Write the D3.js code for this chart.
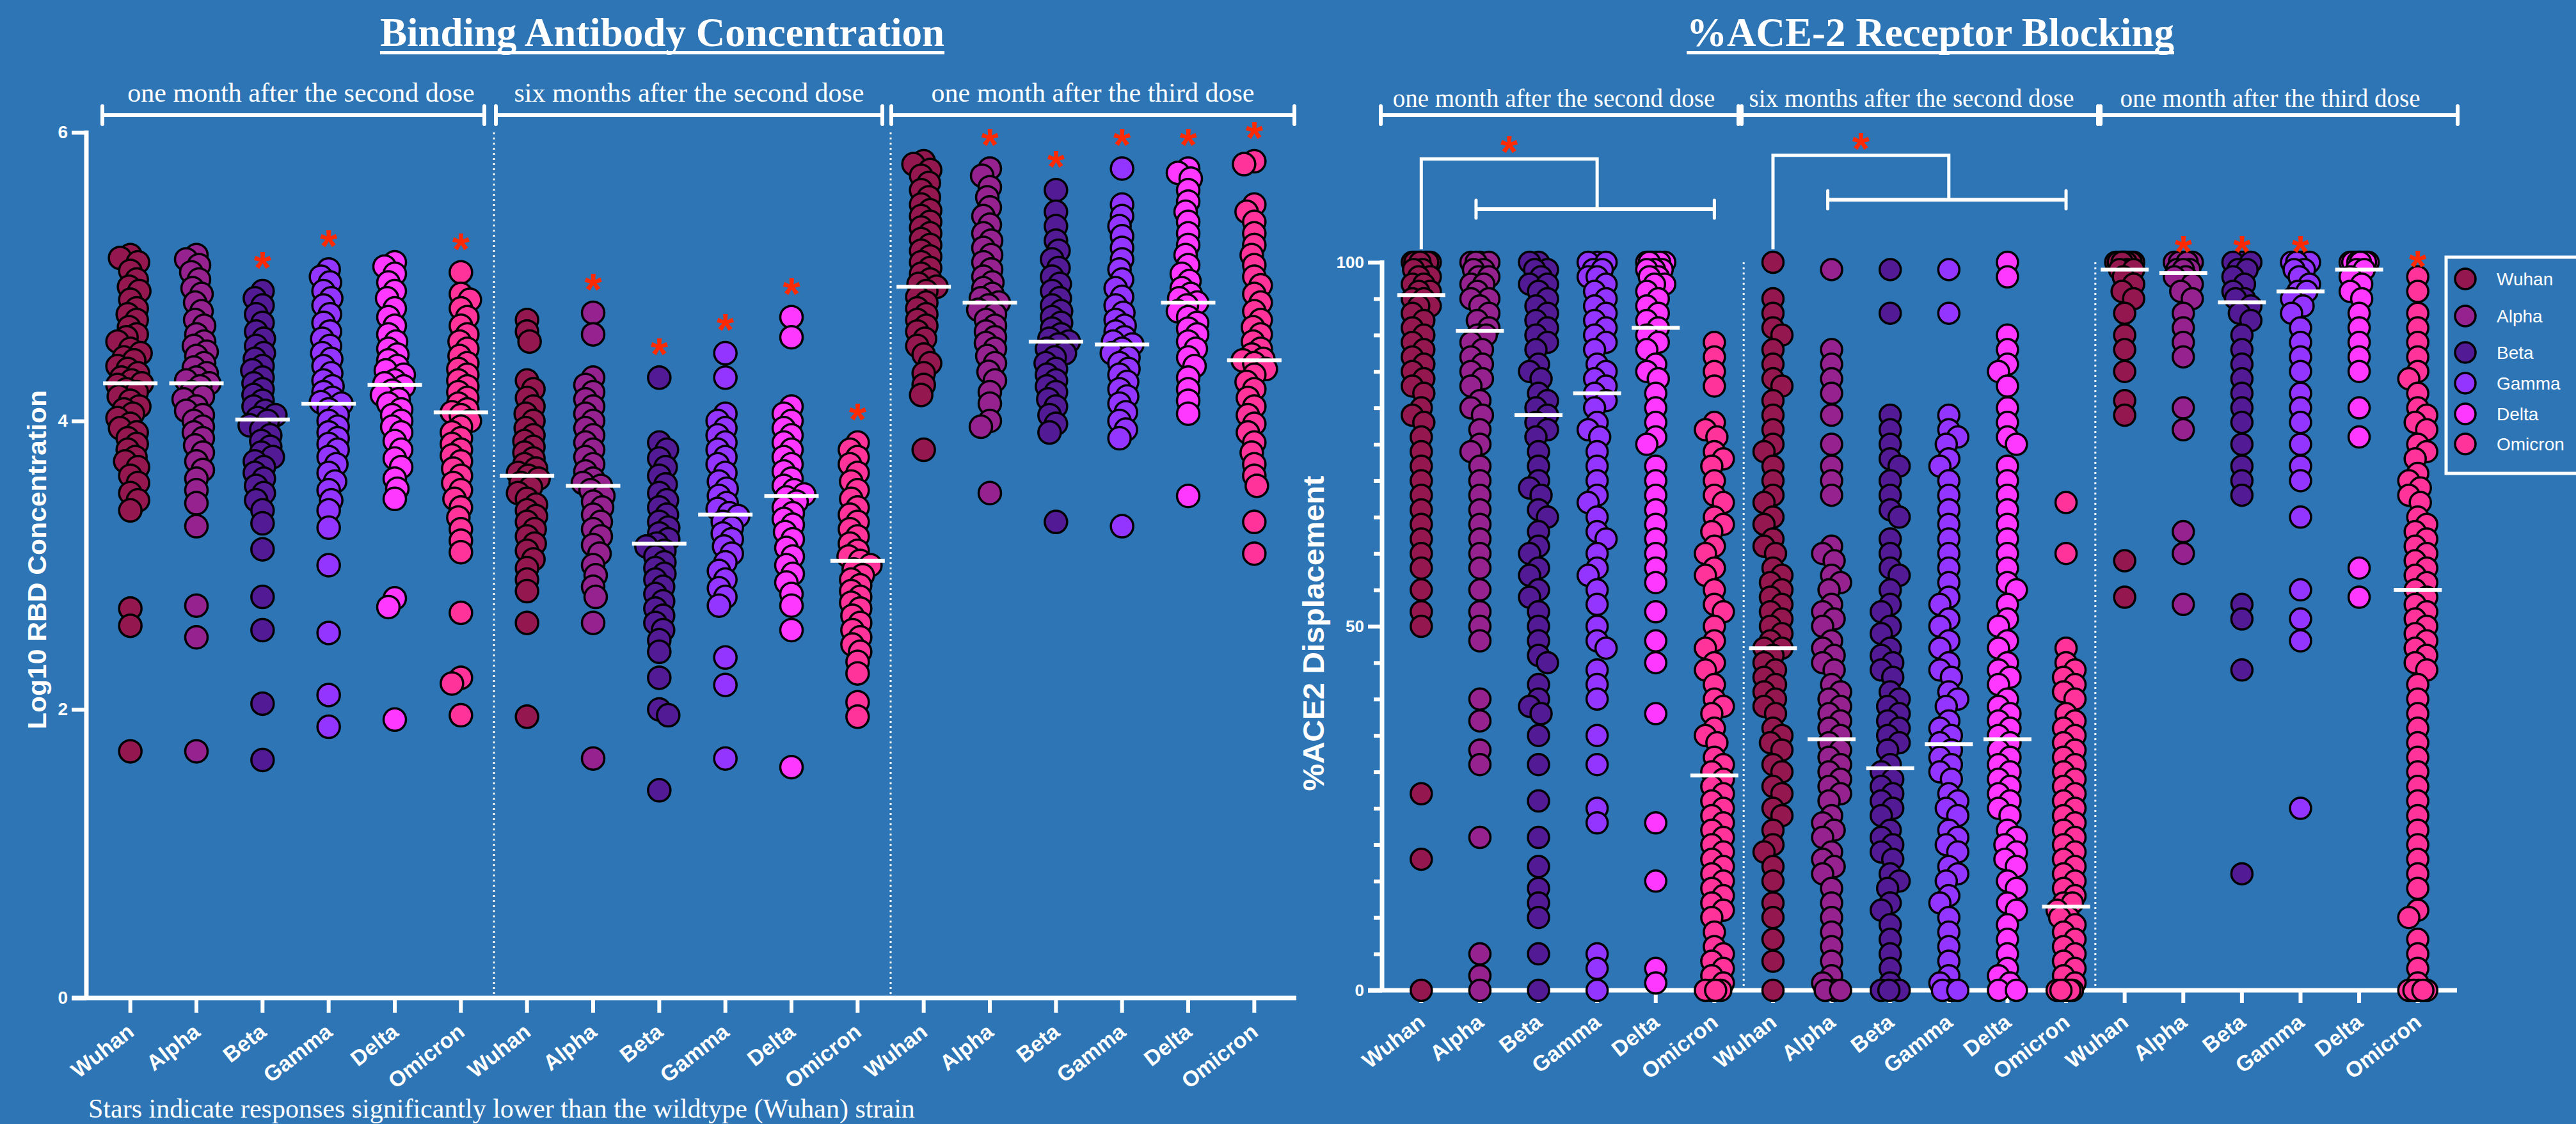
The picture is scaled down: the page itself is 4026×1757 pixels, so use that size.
<!DOCTYPE html>
<html>
<head>
<meta charset="utf-8">
<script src="https://cdn.jsdelivr.net/npm/d3@7"></script>
<style>
  html, body { margin: 0; padding: 0; background: #2E75B6; }
  svg { display: block; }
</style>
</head>
<body>
<svg id="chart" width="4026" height="1757"></svg>
<script>
// ---- categories and labels ----
const variants = ["Wuhan", "Alpha", "Beta", "Gamma", "Delta", "Omicron"];
const variantColors = ["#95174F", "#95228F", "#521A94", "#9434FF", "#FF38FF", "#FF3399"];
const periods = ["one month after the second dose", "six months after the second dose", "one month after the third dose"];
const rbdTicks = [0, 2, 4, 6];
const aceTicks = d3.range(0, 101, 5);
const aceTickLabels = [0, 50, 100];

// ---- Log10 RBD concentration, one array per variant ----
const rbdDose2Month1 = [
  [5.15,5.13,5.1,5.04,4.98,4.93,4.9,4.84,4.78,4.74,4.7,4.65,4.6,4.58,4.55,4.5,4.47,4.44,4.42,4.38,4.36,4.33,4.3,4.28,4.26,4.25,4.22,4.2,4.17,4.14,4.1,4.08,4.05,4.02,3.98,3.95,3.92,3.88,3.84,3.8,3.75,3.72,3.68,3.62,3.57,3.5,3.45,3.38,2.7,2.58,1.71],
  [5.15,5.12,5.08,5.03,4.98,4.92,4.88,4.82,4.76,4.7,4.66,4.6,4.55,4.52,4.48,4.45,4.4,4.37,4.33,4.3,4.28,4.26,4.24,4.2,4.17,4.15,4.1,4.07,4.04,4.0,3.96,3.92,3.88,3.83,3.78,3.72,3.66,3.6,3.52,3.43,3.27,2.72,2.5,1.71],
  [4.9,4.85,4.8,4.74,4.68,4.62,4.57,4.52,4.47,4.43,4.38,4.35,4.3,4.26,4.22,4.18,4.14,4.1,4.07,4.04,4.02,4.0,3.97,3.94,3.9,3.86,3.82,3.78,3.75,3.72,3.68,3.64,3.6,3.55,3.5,3.45,3.38,3.29,3.11,2.78,2.55,2.04,1.65],
  [5.05,5.0,4.96,4.9,4.85,4.8,4.74,4.68,4.62,4.57,4.52,4.47,4.43,4.38,4.33,4.28,4.24,4.2,4.16,4.13,4.12,4.08,4.04,4.0,3.96,3.92,3.88,3.84,3.8,3.75,3.7,3.64,3.58,3.52,3.45,3.38,3.26,3.0,2.53,2.1,1.88],
  [5.1,5.07,5.02,4.96,4.9,4.85,4.78,4.72,4.66,4.6,4.55,4.5,4.46,4.42,4.38,4.35,4.32,4.28,4.26,4.24,4.21,4.18,4.15,4.12,4.08,4.04,4.0,3.96,3.92,3.86,3.8,3.74,3.68,3.6,3.53,3.46,2.77,2.71,1.93],
  [5.03,4.88,4.84,4.78,4.72,4.66,4.6,4.55,4.5,4.45,4.4,4.36,4.32,4.28,4.24,4.2,4.16,4.12,4.08,4.06,4.04,4.0,3.96,3.92,3.88,3.84,3.8,3.76,3.72,3.67,3.62,3.57,3.52,3.46,3.4,3.33,3.25,3.17,3.09,2.67,2.22,2.18,1.96]
];
const rbdDose2Month6 = [
  [4.7,4.62,4.55,4.28,4.22,4.16,4.1,4.05,4.0,3.95,3.9,3.86,3.82,3.78,3.74,3.7,3.67,3.64,3.62,3.6,3.57,3.54,3.5,3.46,3.42,3.38,3.34,3.3,3.25,3.2,3.15,3.1,3.04,2.98,2.9,2.82,2.6,1.95],
  [4.75,4.6,4.3,4.25,4.2,4.15,4.1,4.05,4.0,3.95,3.9,3.85,3.8,3.75,3.7,3.65,3.6,3.57,3.55,3.52,3.48,3.44,3.4,3.35,3.3,3.25,3.2,3.14,3.08,3.0,2.93,2.85,2.78,2.6,1.66],
  [4.3,3.85,3.8,3.74,3.68,3.62,3.56,3.5,3.45,3.4,3.35,3.3,3.26,3.22,3.18,3.15,3.13,3.1,3.06,3.02,2.98,2.94,2.9,2.85,2.8,2.75,2.7,2.65,2.6,2.55,2.48,2.4,2.22,2.0,1.96,1.44],
  [4.47,4.3,4.05,4.0,3.95,3.9,3.85,3.8,3.75,3.7,3.64,3.58,3.53,3.48,3.43,3.39,3.36,3.34,3.3,3.26,3.22,3.18,3.13,3.08,3.02,2.96,2.9,2.84,2.78,2.72,2.36,2.17,1.66],
  [4.72,4.58,4.1,4.05,4.0,3.95,3.9,3.85,3.8,3.75,3.7,3.65,3.6,3.55,3.52,3.49,3.47,3.44,3.4,3.36,3.32,3.28,3.23,3.18,3.12,3.06,3.0,2.94,2.88,2.8,2.72,2.55,1.6],
  [3.85,3.8,3.75,3.7,3.64,3.58,3.52,3.46,3.4,3.35,3.3,3.25,3.2,3.15,3.1,3.06,3.03,3.0,2.97,2.93,2.9,2.86,2.82,2.78,2.74,2.7,2.65,2.6,2.55,2.5,2.45,2.4,2.33,2.25,2.05,1.95]
];
const rbdDose3Month1 = [
  [5.8,5.78,5.74,5.7,5.65,5.6,5.55,5.5,5.46,5.42,5.38,5.34,5.3,5.26,5.22,5.18,5.14,5.1,5.06,5.02,4.98,4.95,4.93,4.9,4.86,4.82,4.78,4.74,4.7,4.66,4.62,4.57,4.52,4.46,4.4,4.33,4.25,4.18,3.8],
  [5.75,5.7,5.62,5.55,5.48,5.42,5.36,5.3,5.25,5.2,5.15,5.1,5.05,5.0,4.96,4.92,4.88,4.85,4.82,4.8,4.77,4.74,4.7,4.66,4.62,4.58,4.54,4.5,4.45,4.4,4.34,4.28,4.2,4.12,4.0,3.96,3.5],
  [5.6,5.45,5.35,5.25,5.18,5.12,5.06,5.0,4.95,4.9,4.85,4.8,4.76,4.72,4.68,4.64,4.6,4.57,4.55,4.53,4.5,4.47,4.44,4.4,4.36,4.32,4.28,4.24,4.2,4.15,4.1,4.04,3.98,3.92,3.3],
  [5.75,5.5,5.42,5.35,5.28,5.2,5.12,5.05,4.98,4.92,4.86,4.8,4.75,4.7,4.66,4.62,4.58,4.55,4.53,4.5,4.47,4.44,4.4,4.36,4.32,4.27,4.22,4.17,4.12,4.06,4.0,3.94,3.88,3.27],
  [5.75,5.72,5.68,5.6,5.52,5.45,5.38,5.3,5.22,5.15,5.08,5.02,4.97,4.92,4.88,4.85,4.82,4.8,4.76,4.72,4.68,4.64,4.6,4.55,4.5,4.44,4.38,4.3,4.22,4.14,4.05,3.48],
  [5.8,5.78,5.5,5.45,5.38,5.3,5.22,5.15,5.08,5.0,4.94,4.88,4.82,4.76,4.7,4.65,4.6,4.55,4.5,4.46,4.43,4.42,4.4,4.36,4.32,4.27,4.22,4.16,4.1,4.04,3.98,3.92,3.85,3.78,3.7,3.62,3.55,3.3,3.08]
];
const rbdMedians = [
  [4.26, 4.26, 4.01, 4.12, 4.25, 4.06],
  [3.62, 3.55, 3.15, 3.35, 3.48, 3.03],
  [4.93, 4.82, 4.55, 4.53, 4.82, 4.42]
];
const rbdStars = [
  [0, 0, 1, 1, 0, 1],
  [0, 1, 1, 1, 1, 1],
  [0, 1, 1, 1, 1, 1]
];

// ---- %ACE2 displacement, one array per variant ----
const aceDose2Month1 = [
  [100,100,100,100,100,100,100,100,99,99,98,98,97,97,96,96,95,95,94,94,93,92,91,90,89,88,87,86,85,84,83,82,80,79,78,76,74,72,70,68,66,64,62,60,58,55,52,50,27,18,0],
  [100,100,100,100,99,99,98,98,97,97,96,95,95,94,93,92,91,90,90,89,88,87,86,85,84,83,81,80,79,77,75,74,72,70,68,66,64,62,60,58,55,52,50,48,40,37,33,31,21,5,2,0],
  [100,100,99,99,98,97,97,96,95,94,93,92,91,90,89,88,86,85,84,82,81,80,79,78,77,76,74,72,70,69,68,66,65,63,61,60,58,57,55,54,52,50,48,46,45,42,40,39,38,35,31,26,21,17,14,12,10,5,0],
  [100,100,100,99,99,98,98,97,96,95,94,93,92,91,90,89,88,86,85,84,83,82,81,80,78,77,76,74,72,70,68,67,65,63,62,60,58,57,55,53,50,48,47,44,42,40,35,31,25,23,5,3,0],
  [100,100,100,100,100,100,99,99,99,98,98,97,97,96,95,94,93,92,91,90,89,88,86,85,84,82,80,78,76,75,72,70,68,66,64,62,60,58,56,52,48,45,38,23,15,3,1],
  [89,87,85,83,78,77,76,74,73,72,70,68,67,65,64,63,61,60,58,57,55,53,52,50,48,47,45,44,42,40,39,38,36,35,34,32,31,30,29,28,27,26,25,24,23,22,21,20,19,18,17,16,15,14,13,12,11,10,8,6,5,4,3,2,1,0,0,0,0]
];
const aceDose2Month6 = [
  [100,95,93,91,90,88,86,84,83,81,79,77,75,74,72,70,68,67,65,64,62,61,60,58,57,56,55,54,53,52,51,50,49,48,47,47,46,45,44,43,42,41,40,39,38,36,35,34,33,31,30,28,27,25,24,22,20,19,17,15,12,10,7,4,0],
  [99,88,86,84,82,79,75,72,70,68,61,60,59,57,56,55,53,52,51,50,48,47,46,45,44,42,41,40,39,38,37,36,35,34,33,32,31,30,29,28,27,26,24,23,22,21,19,18,17,16,14,12,10,8,6,4,2,1,0,0,0],
  [99,93,79,77,75,73,72,70,68,66,65,62,60,58,57,55,53,52,50,49,47,46,45,44,43,41,40,39,38,37,36,35,34,33,31,30,29,28,27,26,25,24,22,21,20,19,18,16,15,14,12,11,9,7,5,3,1,0,0,0],
  [99,93,79,77,76,75,73,72,70,68,66,64,62,60,58,56,54,53,51,50,48,47,45,44,43,41,40,39,37,36,35,34,33,32,31,30,29,27,26,25,24,22,21,20,19,17,16,15,13,12,10,8,6,4,2,1,0,0,0],
  [100,98,90,88,86,85,83,80,78,76,75,72,70,68,66,64,62,60,58,56,55,53,51,50,48,47,45,44,43,42,40,39,38,37,36,35,34,33,32,31,30,29,28,27,26,25,24,22,21,20,19,18,17,15,14,12,11,9,7,5,3,2,1,0,0],
  [67,60,47,45,44,43,42,41,40,38,37,36,35,34,33,32,31,30,29,28,27,26,25,24,23,22,21,20,19,18,17,16,15,14,13,12,12,11,10,10,9,8,7,6,5,4,3,2,1,0,0,0,0,0,0]
];
const aceDose3Month1 = [
  [100,100,100,100,100,100,100,100,100,100,99,99,99,98,97,96,95,93,90,88,85,81,79,59,54],
  [100,100,100,100,100,99,99,99,98,98,97,96,95,93,91,89,87,80,77,63,60,53],
  [100,100,100,99,99,98,97,96,95,95,94,93,92,90,88,86,84,82,80,78,75,72,70,68,53,51,44,16],
  [100,100,100,100,99,99,98,97,96,96,95,94,93,91,89,87,85,82,80,78,75,72,70,65,55,51,48,25],
  [100,100,100,100,100,100,100,100,100,99,99,98,97,96,95,93,91,89,87,85,80,76,58,54],
  [98,96,93,91,89,87,85,84,82,80,79,78,77,75,74,73,71,70,69,68,67,65,64,63,62,61,60,59,58,57,56,55,54,53,52,51,50,49,48,47,46,45,44,42,40,38,36,34,32,30,28,26,24,22,20,18,16,14,11,10,7,5,3,1,0,0,0,0,0]
];
const aceMedians = [
  [95.5, 90.6, 79, 82, 91, 29.5],
  [47, 34.5, 30.5, 33.8, 34.5, 11.5],
  [99, 98.5, 94.5, 96, 99, 55]
];
const aceStars = [
  [0, 0, 0, 0, 0, 0],
  [0, 0, 0, 0, 0, 0],
  [0, 1, 1, 1, 0, 1]
];

// ---- drawing ----
const sans = "'Liberation Sans', Arial, Helvetica, sans-serif";
const serif = "'Liberation Serif', 'Times New Roman', Times, serif";
const white = "#FFFFFF";
const starRed = "#FF2A00";

const svg = d3.select("#chart");
svg.append("rect").attr("width", 4026).attr("height", 1757).attr("fill", "#2E75B6");

const slots = d3.range(18); // 3 periods x 6 variants

// Simple deterministic beeswarm: nudge each point sideways until it is far enough from the others.
function swarm(values, cx, y, minDist, maxOff) {
  const placed = [];
  values.forEach((v, i) => {
    const py = y(v);
    const cands = [0];
    for (let s = 2; s <= maxOff; s += 2) { cands.push(i % 2 ? -s : s, i % 2 ? s : -s); }
    let best = 0, bestD = -1;
    for (const off of cands) {
      let dmin = Infinity;
      for (const q of placed) {
        const d = Math.hypot(q.x - (cx + off), q.y - py);
        if (d < dmin) dmin = d;
      }
      if (dmin >= minDist) { best = off; bestD = dmin; break; }
      if (dmin > bestD) { bestD = dmin; best = off; }
    }
    placed.push({ x: cx + best, y: py, v });
  });
  return placed;
}

function drawPanel(p) {
  const g = svg.append("g");
  const cx = i => p.x(i) + p.x.bandwidth() / 2;
  const yTop = p.y(p.yMax), y0 = p.y(0);

  // dotted period separators
  [6, 12].forEach(k => {
    g.append("line")
      .attr("x1", p.x(k)).attr("x2", p.x(k))
      .attr("y1", yTop).attr("y2", y0)
      .attr("stroke", white).attr("stroke-width", 3)
      .attr("stroke-dasharray", "3 5");
  });

  // y axis
  const yAxis = d3.axisLeft(p.y).tickValues(p.yTicks).tickSize(p.majorTick).tickPadding(6)
    .tickFormat(d => p.yLabels.includes(d) ? d : "");
  const ga = g.append("g").attr("transform", `translate(${p.axisX},0)`).call(yAxis);
  ga.select(".domain").remove();
  ga.selectAll(".tick line")
    .attr("x2", d => p.yLabels.includes(d) ? -p.majorTick : -p.minorTick)
    .attr("stroke", white).attr("stroke-width", 6);
  ga.selectAll(".tick text")
    .attr("fill", white).attr("font-family", sans).attr("font-weight", "bold")
    .attr("font-size", p.yLabelSize);
  g.append("line")
    .attr("x1", p.axisX).attr("x2", p.axisX)
    .attr("y1", yTop - 3).attr("y2", y0)
    .attr("stroke", white).attr("stroke-width", 7);

  // x axis
  const xAxis = d3.axisBottom(p.x).tickSize(p.xTick).tickFormat("");
  const gx = g.append("g").attr("transform", `translate(0,${y0})`).call(xAxis);
  gx.select(".domain").remove();
  gx.selectAll(".tick line").attr("stroke", white).attr("stroke-width", 6);
  g.append("line")
    .attr("x1", p.axisX - p.majorTick).attr("x2", p.axisEnd)
    .attr("y1", y0).attr("y2", y0)
    .attr("stroke", white).attr("stroke-width", 7);

  // rotated category labels
  slots.forEach(i => {
    const lx = cx(i) + 8, ly = y0 + p.xTick + 34;
    g.append("text")
      .attr("transform", `translate(${lx},${ly}) rotate(-38)`)
      .attr("text-anchor", "end")
      .attr("fill", white).attr("font-family", sans).attr("font-weight", "bold")
      .attr("font-size", 34)
      .text(variants[i % 6]);
  });

  // points
  p.groups.forEach((grp, pi) => {
    grp.forEach((vals, vi) => {
      const i = pi * 6 + vi;
      const pts = swarm(vals, cx(i), p.y, p.minDist, p.maxOff);
      g.append("g").selectAll("circle").data(pts).join("circle")
        .attr("cx", d => d.x).attr("cy", d => d.y).attr("r", p.r)
        .attr("fill", variantColors[vi])
        .attr("stroke", "#000").attr("stroke-width", 3.5);
    });
  });

  // median bars
  p.medians.forEach((row, pi) => {
    row.forEach((m, vi) => {
      const i = pi * 6 + vi;
      g.append("line")
        .attr("x1", cx(i) - p.medianW / 2).attr("x2", cx(i) + p.medianW / 2)
        .attr("y1", p.y(m)).attr("y2", p.y(m))
        .attr("stroke", white).attr("stroke-width", 6);
    });
  });

  // significance stars
  p.stars.forEach((row, pi) => {
    row.forEach((s, vi) => {
      if (!s) return;
      const i = pi * 6 + vi;
      const top = p.y(d3.max(p.groups[pi][vi]));
      g.append("text")
        .attr("x", cx(i)).attr("y", top - p.starGap + 40)
        .attr("text-anchor", "middle")
        .attr("fill", starRed).attr("font-family", sans).attr("font-weight", "bold")
        .attr("font-size", 70).text("*");
    });
  });

  // period brackets and captions
  periods.forEach((label, k) => {
    const [a, b] = p.brackets[k];
    g.append("line").attr("x1", a).attr("x2", b).attr("y1", 180).attr("y2", 180)
      .attr("stroke", white).attr("stroke-width", 6);
    [a, b].forEach(xx => g.append("line")
      .attr("x1", xx).attr("x2", xx).attr("y1", 166).attr("y2", 194)
      .attr("stroke", white).attr("stroke-width", 6).attr("stroke-linecap", "round"));
    g.append("text")
      .attr("x", (a + b) / 2 + p.captionShift[k]).attr("y", p.captionY)
      .attr("text-anchor", "middle")
      .attr("fill", white).attr("font-family", serif).attr("font-size", p.captionSize)
      .text(label);
  });

  // panel title with underline
  const t = g.append("text")
    .attr("x", p.titleX).attr("y", 72).attr("text-anchor", "middle")
    .attr("fill", white).attr("font-family", serif).attr("font-weight", "bold")
    .attr("font-size", 63).text(p.title);
  const tw = t.node().getComputedTextLength();
  g.append("rect").attr("x", p.titleX - tw / 2).attr("y", 80).attr("width", tw).attr("height", 5)
    .attr("fill", white);

  // y axis title
  g.append("text")
    .attr("transform", `translate(${p.yTitleX},${p.yTitleY}) rotate(-90)`)
    .attr("text-anchor", "middle")
    .attr("fill", white).attr("font-family", sans).attr("font-weight", "bold")
    .attr("font-size", p.yTitleSize)
    .attr("textLength", p.yTitleLen).attr("lengthAdjust", "spacingAndGlyphs")
    .text(p.yTitle);

  return g;
}

// left panel: binding antibody concentration
const xL = d3.scaleBand().domain(slots).range([152, 2012]);
const yL = d3.scaleLinear().domain([0, 6]).range([1560, 207]);
drawPanel({
  x: xL, y: yL, yMax: 6, yTicks: rbdTicks, yLabels: rbdTicks,
  axisX: 135, axisEnd: 2026, majorTick: 23, minorTick: 23, yLabelSize: 28, xTick: 23,
  groups: [rbdDose2Month1, rbdDose2Month6, rbdDose3Month1],
  medians: rbdMedians, stars: rbdStars, starGap: 52,
  r: 17.5, minDist: 16, maxOff: 20, medianW: 85,
  brackets: [[160, 757], [775, 1379], [1393, 2023]], captionShift: [12, 0, 0],
  captionY: 159, captionSize: 42,
  title: "Binding Antibody Concentration", titleX: 1035,
  yTitle: "Log10 RBD Concentration", yTitleX: 72, yTitleY: 875, yTitleSize: 41, yTitleLen: 530
});

// right panel: ACE-2 receptor blocking
const xR = d3.scaleBand().domain(slots).range([2175.5, 3824.5]);
const yR = d3.scaleLinear().domain([0, 100]).range([1548, 410]);
const right = drawPanel({
  x: xR, y: yR, yMax: 100, yTicks: aceTicks, yLabels: aceTickLabels,
  axisX: 2160, axisEnd: 3840, majorTick: 22, minorTick: 13, yLabelSize: 26, xTick: 20,
  groups: [aceDose2Month1, aceDose2Month6, aceDose3Month1],
  medians: aceMedians, stars: aceStars, starGap: 32,
  r: 16.5, minDist: 20, maxOff: 14, medianW: 75,
  brackets: [[2158, 2717], [2722, 3279], [3283, 3841]], captionShift: [-9, -13, -14],
  captionY: 167, captionSize: 39,
  title: "%ACE-2 Receptor Blocking", titleX: 3017,
  yTitle: "%ACE2 Displacement", yTitleX: 2069, yTitleY: 990, yTitleSize: 46, yTitleLen: 493
});

// comparison brackets: Wuhan vs the other variants within the first two periods
[0, 1].forEach(pi => {
  const cx = i => xR(i) + xR.bandwidth() / 2;
  const wx = cx(pi * 6), ax = cx(pi * 6 + 1) - 6, ox = cx(pi * 6 + 5);
  const midX = (ax + ox) / 2 + 3;
  const topY = yR(pi === 0 ? 114.2 : 114.7), barY = yR(pi === 0 ? 107.3 : 108.6), footY = yR(101.8);
  right.append("path")
    .attr("d", `M${wx},${footY}V${topY}H${midX}V${barY}`)
    .attr("fill", "none").attr("stroke", white).attr("stroke-width", 5);
  right.append("line").attr("x1", ax).attr("x2", ox).attr("y1", barY).attr("y2", barY)
    .attr("stroke", white).attr("stroke-width", 6);
  [ax, ox].forEach(xx => right.append("line")
    .attr("x1", xx).attr("x2", xx).attr("y1", barY - 14).attr("y2", barY + 14)
    .attr("stroke", white).attr("stroke-width", 5).attr("stroke-linecap", "round"));
  right.append("text")
    .attr("x", (wx + midX) / 2).attr("y", topY - 26 + 40)
    .attr("text-anchor", "middle")
    .attr("fill", starRed).attr("font-family", sans).attr("font-weight", "bold")
    .attr("font-size", 70).text("*");
});

// legend
const legend = svg.append("g");
legend.append("rect").attr("x", 3823).attr("y", 402).attr("width", 240).attr("height", 338)
  .attr("fill", "none").attr("stroke", white).attr("stroke-width", 5);
const legendY = [436, 494, 551, 599, 647, 694];
variants.forEach((v, i) => {
  legend.append("circle").attr("cx", 3853).attr("cy", legendY[i]).attr("r", 16)
    .attr("fill", variantColors[i]).attr("stroke", "#000").attr("stroke-width", 3.5);
  legend.append("text").attr("x", 3902).attr("y", legendY[i] + 10)
    .attr("fill", white).attr("font-family", sans).attr("font-size", 28).text(v);
});

// footnote
svg.append("text").attr("x", 138).attr("y", 1747)
  .attr("fill", white).attr("font-family", serif).attr("font-size", 42)
  .text("Stars indicate responses significantly lower than the wildtype (Wuhan) strain");
</script>
</body>
</html>
